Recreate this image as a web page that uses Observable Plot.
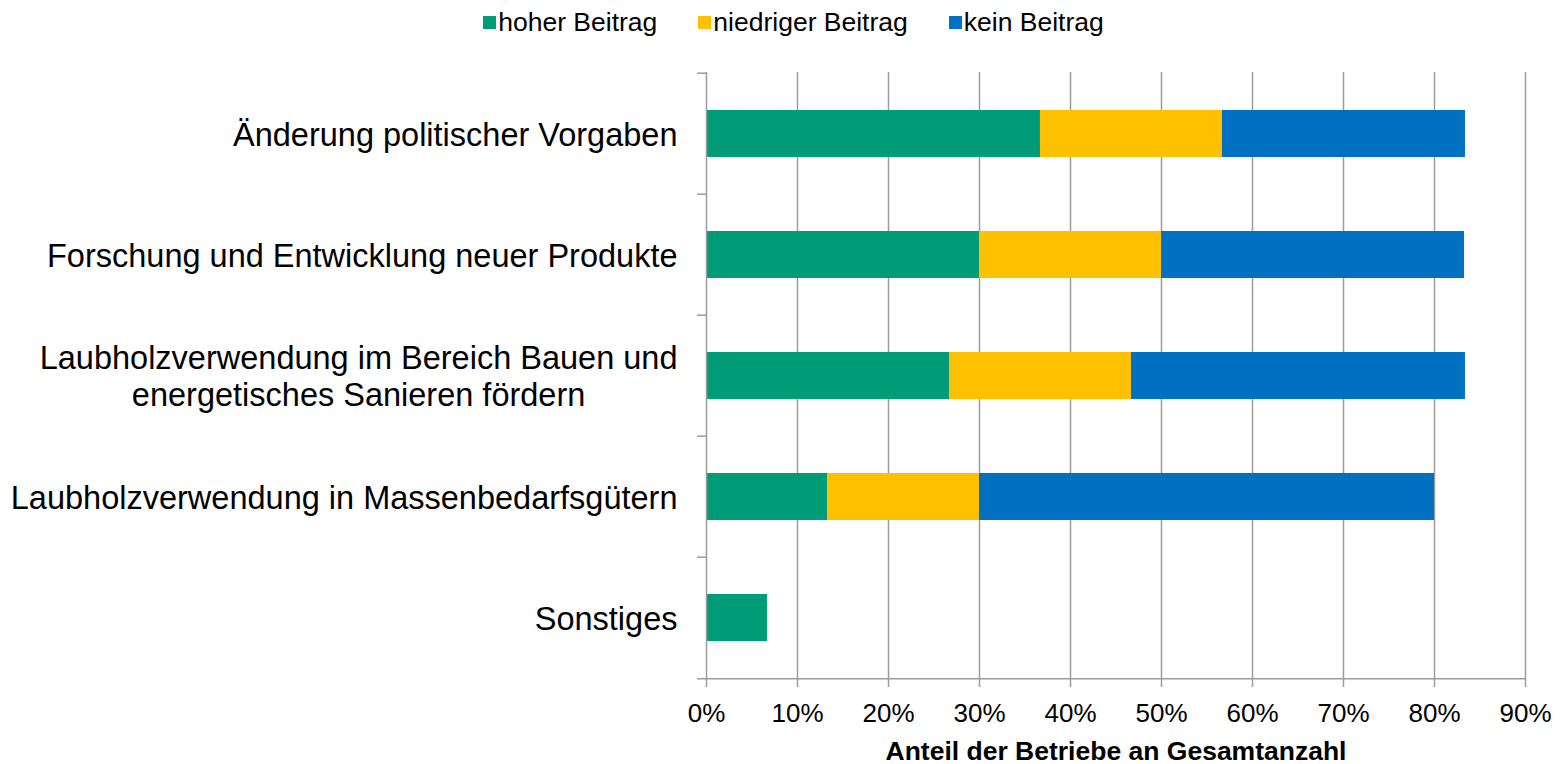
<!DOCTYPE html>
<html><head><meta charset="utf-8">
<script src="https://cdn.jsdelivr.net/npm/d3@7"></script>
<script src="https://cdn.jsdelivr.net/npm/@observablehq/plot@0.6"></script>
<style>
body{margin:0;background:#fff;font-family:"Liberation Sans",Arial,sans-serif;}
#legend{height:44px;display:flex;justify-content:center;align-items:center;gap:41px;padding-left:22px;font-size:26.5px;color:#000;}
.item{display:flex;align-items:center;}
.sw{width:13px;height:13px;margin-right:2px;}
#chart svg{display:block;}
</style></head><body>
<div id="legend"></div><div id="chart"></div>
<script>
const categories = [
  "Änderung politischer Vorgaben",
  "Forschung und Entwicklung neuer Produkte",
  "Laubholzverwendung im Bereich Bauen und energetisches Sanieren fördern",
  "Laubholzverwendung in Massenbedarfsgütern",
  "Sonstiges"
];
const tickLabels = [
  "Änderung politischer Vorgaben",
  "Forschung und Entwicklung neuer Produkte",
  "Laubholzverwendung im Bereich Bauen und\nenergetisches Sanieren fördern",
  "Laubholzverwendung in Massenbedarfsgütern",
  "Sonstiges"
];
const series = ["hoher Beitrag", "niedriger Beitrag", "kein Beitrag"];
const colors = ["#009B77", "#FFC000", "#0070C0"];
const hoher = [36.7, 30.0, 26.7, 13.3, 6.7];
const niedriger = [20.0, 20.0, 20.0, 16.7, 0];
const kein = [26.7, 33.3, 36.7, 50.0, 0];
const xTicks = [0, 10, 20, 30, 40, 50, 60, 70, 80, 90];
const xTitle = "Anteil der Betriebe an Gesamtanzahl";

const valuesBySeries = [hoher, niedriger, kein];
const data = [];
series.forEach((s, si) => categories.forEach((c, ci) => data.push({category: c, series: s, value: valuesBySeries[si][ci]})));

// legend
const legend = document.getElementById("legend");
series.forEach((s, i) => {
  const it = document.createElement("div"); it.className = "item";
  const sw = document.createElement("div"); sw.className = "sw"; sw.style.background = colors[i];
  const tx = document.createElement("span"); tx.textContent = s;
  it.append(sw, tx); legend.append(it);
});

const width = 1565, height = 720, marginTop = 28, marginBottom = 84, marginLeft = 706, marginRight = 40;
const step = (height - marginTop - marginBottom) / categories.length;
const grid = "#9c9c9c";
const last = categories[categories.length - 1];

const chart = Plot.plot({
  width, height, marginTop, marginBottom, marginLeft, marginRight,
  style: {fontFamily: "'Liberation Sans', Arial, sans-serif", color: "#000", background: "#fff"},
  x: {domain: [0, 90], label: null},
  y: {domain: categories, paddingInner: 0.61, paddingOuter: 0.305, label: null},
  color: {domain: series, range: colors},
  marks: [
    Plot.ruleX(xTicks.slice(1), {stroke: grid, strokeWidth: 1.5}),
    Plot.barX(data, {y: "category", x: "value", fill: "series"}),
    Plot.ruleX([0], {stroke: grid, strokeWidth: 1.5}),
    Plot.ruleY(categories, {x1: 0, x2: 0, dy: -step / 2, insetLeft: -9, stroke: grid, strokeWidth: 1.5}),
    Plot.ruleY([last], {x1: 0, x2: 90, dy: step / 2, insetLeft: -9, stroke: grid, strokeWidth: 1.5}),
    Plot.axisX(xTicks, {tickSize: 7, tickPadding: 16, tickFormat: d => d + "%", fontSize: 26, stroke: grid, strokeWidth: 1.5, fill: "#000", label: null}),
    Plot.axisY({tickSize: 0, tickPadding: 29, fontSize: 32.5, lineHeight: 1.14, fill: "#000", tickFormat: d => tickLabels[categories.indexOf(d)], label: null}),
    Plot.text([xTitle], {text: d => d, frameAnchor: "bottom", dy: 79, lineAnchor: "bottom", fontSize: 26.5, fontWeight: "bold", fill: "#000"})
  ]
});
document.getElementById("chart").append(chart);

// center the lines of the multi-line category label (as in the original)
chart.querySelectorAll("text").forEach(t => {
  const spans = t.querySelectorAll("tspan");
  if (spans.length > 1) {
    const b0 = t.getBBox();
    const right = b0.x + b0.width;
    t.setAttribute("text-anchor", "middle");
    const b1 = t.getBBox();
    const shift = right - (b1.x + b1.width);
    spans.forEach(s => s.setAttribute("x", (parseFloat(s.getAttribute("x")) || 0) + shift));
  }
});
</script>
</body></html>
